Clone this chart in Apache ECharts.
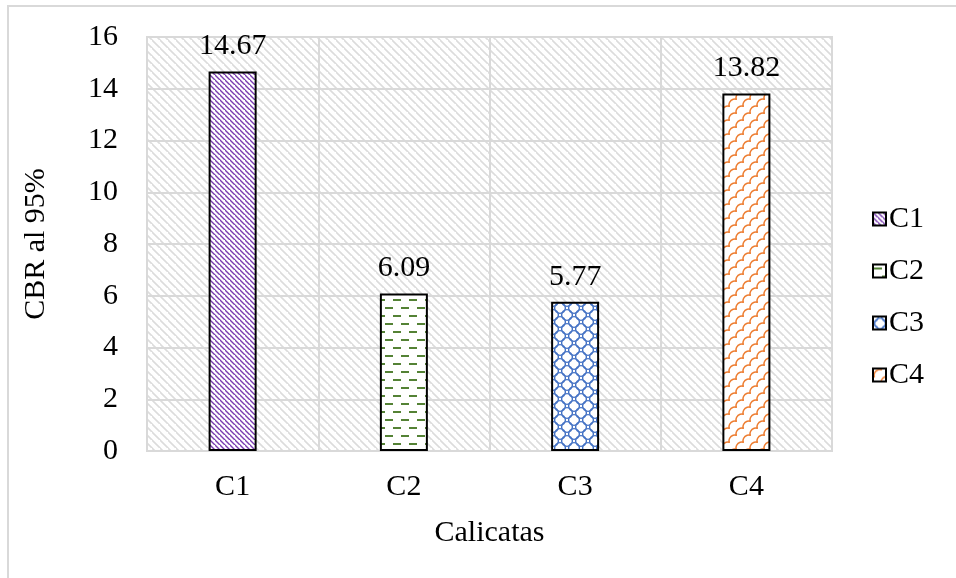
<!DOCTYPE html>
<html>
<head>
<meta charset="utf-8">
<script src="https://cdn.jsdelivr.net/npm/echarts@6/dist/echarts.min.js"></script>
<style>
html,body{margin:0;padding:0;background:#fff;}
#main{width:956px;height:578px;}
</style>
</head>
<body>
<div id="main"></div>
<script>
var categories = ['C1', 'C2', 'C3', 'C4'];
var values = [14.67, 6.09, 5.77, 13.82];
var yTicks = [0, 2, 4, 6, 8, 10, 12, 14, 16];

function tile(w, h, draw) {
  var c = document.createElement('canvas');
  c.width = w; c.height = h;
  var ctx = c.getContext('2d');
  ctx.fillStyle = '#fff';
  ctx.fillRect(0, 0, w, h);
  draw(ctx, w, h);
  return { image: c, repeat: 'repeat' };
}
function diag(ctx, w, h, color, lw) {
  ctx.strokeStyle = color; ctx.lineWidth = lw;
  ctx.beginPath();
  ctx.moveTo(-1, -1); ctx.lineTo(w + 1, h + 1);
  ctx.moveTo(-w - 1, -1); ctx.lineTo(1, h + 1);
  ctx.moveTo(w - 1, -h - 1); ctx.lineTo(2 * w + 1, h + 1);
  ctx.stroke();
}
var bgPattern = tile(8, 8, function (ctx, w, h) { diag(ctx, w, h, '#dcdcdc', 1.6); });
var p1 = tile(5, 5, function (ctx, w, h) { diag(ctx, w, h, '#7a3cb0', 1.4); });
var p2 = tile(16, 16, function (ctx) {
  ctx.fillStyle = '#548235';
  ctx.fillRect(1, 3, 8, 2);
  ctx.fillRect(9, 11, 8, 2);
  ctx.fillRect(-7, 11, 8, 2);
});
var p3 = tile(14, 14, function (ctx) {
  ctx.strokeStyle = '#4472c4'; ctx.lineWidth = 1.4;
  var pts = [[0, 0], [14, 0], [0, 14], [14, 14], [7, 7]];
  pts.forEach(function (p) {
    ctx.beginPath(); ctx.arc(p[0], p[1], 5.4, 0, Math.PI * 2); ctx.stroke();
  });
});
var p4 = tile(14, 14, function (ctx) {
  ctx.strokeStyle = '#ed7d31'; ctx.lineWidth = 1.5;
  var pts = [[0, 14], [14, 14], [7, 7], [0, 0], [14, 0], [21, 7], [-7, 7], [7, 21], [7, -7]];
  pts.forEach(function (p) {
    ctx.beginPath(); ctx.arc(p[0], p[1], 6, Math.PI * 0.9, Math.PI * 1.6); ctx.stroke();
  });
});
var patterns = [p1, p2, p3, p4];

var font = 'Liberation Serif';
var fs = 30;
var series = categories.map(function (name, i) {
  return {
    name: name,
    type: 'bar',
    barWidth: 48,
    barGap: '-100%',
    data: values.map(function (v, j) { return j === i ? v : '-'; }),
    itemStyle: { color: patterns[i], borderColor: '#000', borderWidth: 2 },
    label: {
      show: true, position: 'top', distance: 10,
      color: '#000', fontSize: fs, fontFamily: font,
      formatter: function (p) { return p.value.toFixed(2); }
    }
  };
});

var chart = echarts.init(document.getElementById('main'));
chart.setOption({
  backgroundColor: '#fff',
  animation: false,
  graphic: [{
    type: 'rect', silent: true,
    shape: { x: 8, y: 6, width: 1000, height: 700 },
    style: { fill: 'none', stroke: '#d9d9d9', lineWidth: 2 }
  }],
  grid: {
    left: 147, right: 124, top: 37, bottom: 127,
    show: true, backgroundColor: bgPattern, borderColor: '#d9d9d9', borderWidth: 2
  },
  legend: {
    orient: 'vertical', left: 867, top: 199,
    itemWidth: 13, itemHeight: 13, itemGap: 22,
    icon: 'rect',
    itemStyle: { borderColor: '#000', borderWidth: 2 },
    textStyle: { fontSize: fs, fontFamily: font, color: '#000', padding: [0, 0, 0, -2] },
    data: categories
  },
  xAxis: {
    type: 'category', data: categories,
    name: 'Calicatas', nameLocation: 'middle', nameGap: 67,
    nameTextStyle: { fontSize: fs, fontFamily: font, color: '#000' },
    axisTick: { show: false },
    axisLine: { lineStyle: { color: '#d9d9d9', width: 2 } },
    axisLabel: { fontSize: fs, fontFamily: font, color: '#000', margin: 21 },
    splitLine: { show: true, lineStyle: { color: '#d9d9d9', width: 2 } }
  },
  yAxis: {
    type: 'value', min: yTicks[0], max: yTicks[yTicks.length - 1], interval: 2,
    name: 'CBR al 95%', nameLocation: 'middle', nameGap: 96,
    nameTextStyle: { fontSize: fs, fontFamily: font, color: '#000' },
    axisLine: { show: false }, axisTick: { show: false },
    axisLabel: { fontSize: fs, fontFamily: font, color: '#000', margin: 29 },
    splitLine: { lineStyle: { color: '#d9d9d9', width: 2 } }
  },
  series: series
});
</script>
</body>
</html>
